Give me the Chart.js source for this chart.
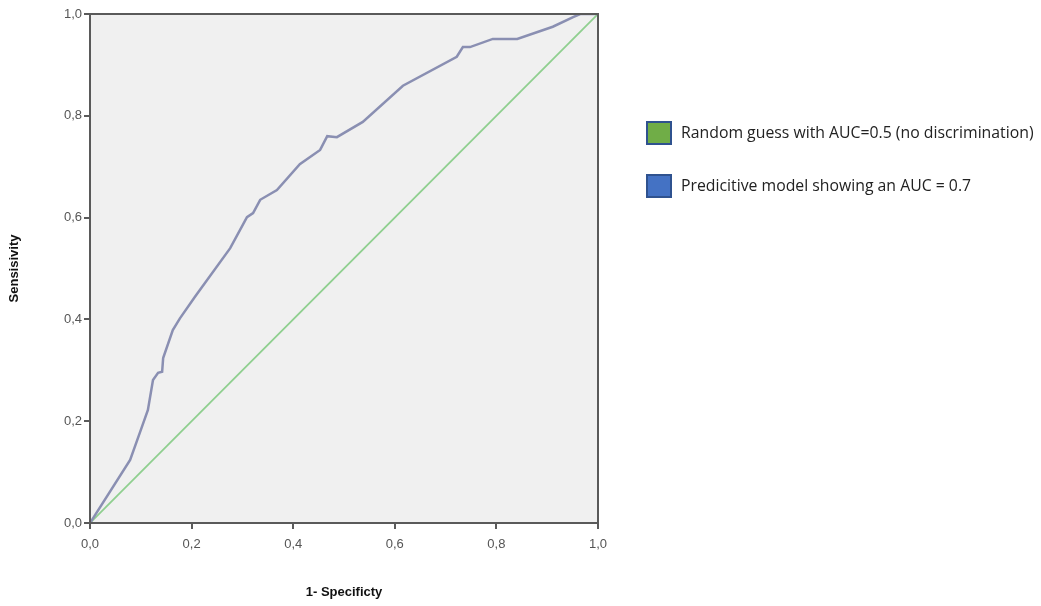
<!DOCTYPE html>
<html>
<head>
<meta charset="utf-8">
<script src="https://cdn.jsdelivr.net/npm/chart.js@4.4.1/dist/chart.umd.min.js"></script>
<style>
  html, body { margin: 0; padding: 0; background: #fff; }
  #wrap { width: 1041px; height: 606px; position: relative; }
</style>
</head>
<body>
<div id="wrap"><canvas id="roc"></canvas></div>
<script>
// ROC curve (1 - specificity, sensitivity)
const fpr = [0, 0.079, 0.098, 0.114, 0.124, 0.134, 0.142, 0.144, 0.163, 0.177, 0.207, 0.276, 0.309, 0.321, 0.335, 0.368,
  0.413, 0.453, 0.467, 0.486, 0.537, 0.616, 0.722, 0.734, 0.748, 0.793, 0.841, 0.911, 0.951, 0.965, 1.0];
const tpr = [0, 0.124, 0.177, 0.222, 0.281, 0.295, 0.297, 0.324, 0.379, 0.402, 0.445, 0.540, 0.601, 0.609, 0.635, 0.654,
  0.705, 0.733, 0.760, 0.758, 0.788, 0.859, 0.916, 0.935, 0.935, 0.951, 0.951, 0.975, 0.994, 1.0, 1.0];
const chanceX = [0, 1];
const chanceY = [0, 1];
const tickValues = [0, 0.2, 0.4, 0.6, 0.8, 1.0];
const legendLabels = ['Random guess with AUC=0.5 (no discrimination)', 'Predicitive model showing an AUC = 0.7'];

const toPoints = (xs, ys) => xs.map((x, i) => ({ x: x, y: ys[i] }));
const fmt = v => v.toFixed(1).replace('.', ',');

// grey panel behind the plot and a frame round it
const panel = {
  id: 'panel',
  beforeDraw(chart) {
    const { ctx, chartArea: a } = chart;
    ctx.save();
    ctx.fillStyle = '#f0f0f0';
    ctx.fillRect(a.left, a.top, a.right - a.left, a.bottom - a.top);
    ctx.restore();
  },
  afterDraw(chart) {
    const { ctx, chartArea: a } = chart;
    ctx.save();
    ctx.strokeStyle = '#5a5a5a';
    ctx.lineWidth = 2;
    ctx.strokeRect(a.left, a.top, a.right - a.left, a.bottom - a.top);
    ctx.restore();
  }
};

// legend boxes on the right
const sideLegend = {
  id: 'sideLegend',
  afterDraw(chart) {
    const { ctx } = chart;
    const fills = ['#70ad47', '#4472c4'];
    const rows = [122, 175];
    ctx.save();
    ctx.font = '15.8px "Open Sans", sans-serif';
    ctx.textBaseline = 'middle';
    legendLabels.forEach((label, i) => {
      const y = rows[i];
      ctx.fillStyle = fills[i];
      ctx.fillRect(647, y, 24, 22);
      ctx.strokeStyle = '#2f528f';
      ctx.lineWidth = 2;
      ctx.strokeRect(647, y, 24, 22);
      ctx.fillStyle = '#222';
      ctx.fillText(label, 681, y + 11);
    });
    ctx.restore();
  }
};

new Chart(document.getElementById('roc'), {
  type: 'scatter',
  data: {
    datasets: [
      {
        label: legendLabels[0],
        data: toPoints(chanceX, chanceY),
        showLine: true,
        borderColor: '#8fcf8f',
        borderWidth: 1.8,
        pointRadius: 0,
        order: 2
      },
      {
        label: legendLabels[1],
        data: toPoints(fpr, tpr),
        showLine: true,
        borderColor: '#8a8fb2',
        borderWidth: 2.5,
        pointRadius: 0,
        order: 1
      }
    ]
  },
  options: {
    responsive: true,
    maintainAspectRatio: false,
    animation: false,
    layout: { padding: { top: 14, right: 443, left: 0, bottom: 0 } },
    plugins: {
      legend: { display: false },
      tooltip: { enabled: false }
    },
    scales: {
      x: {
        type: 'linear',
        min: 0,
        max: 1,
        afterBuildTicks: s => { s.ticks = tickValues.map(v => ({ value: v })); },
        afterFit: s => { s.height = 83; },
        grid: { drawOnChartArea: false, drawTicks: true, tickLength: 6, color: '#5a5a5a', lineWidth: 2 },
        border: { display: true, color: '#5a5a5a', width: 2 },
        ticks: { callback: fmt, color: '#555', font: { family: 'Liberation Sans, Arial', size: 13 }, padding: 8, maxRotation: 0 },
        title: { display: true, text: '1- Specificty', color: '#111', font: { family: 'Liberation Sans, Arial', size: 13, weight: 'bold' }, padding: { bottom: 6 } }
      },
      y: {
        type: 'linear',
        min: 0,
        max: 1,
        afterBuildTicks: s => { s.ticks = tickValues.map(v => ({ value: v })); },
        afterFit: s => { s.width = 90; },
        grid: { drawOnChartArea: false, drawTicks: true, tickLength: 6, color: '#5a5a5a', lineWidth: 2 },
        border: { display: true, color: '#5a5a5a', width: 2 },
        ticks: { callback: fmt, color: '#555', font: { family: 'Liberation Sans, Arial', size: 13 }, padding: 2 },
        title: { display: true, text: 'Sensisivity', color: '#111', font: { family: 'Liberation Sans, Arial', size: 13, weight: 'bold' }, padding: { top: 7 } }
      }
    }
  },
  plugins: [panel, sideLegend]
});
</script>
</body>
</html>
